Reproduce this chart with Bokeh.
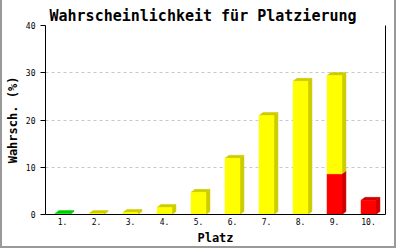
from bokeh.plotting import figure
from bokeh.models import Range1d, FixedTicker, LinearAxis
from bokeh.embed import file_html
from bokeh.resources import INLINE

# ---- data ----
places = ["1.", "2.", "3.", "4.", "5.", "6.", "7.", "8.", "9.", "10."]
red_vals = [0, 0, 0, 0, 0, 0, 0, 0, 8.6, 3.0]
yellow_vals = [0, 0.2, 0.45, 1.5, 4.7, 11.9, 20.95, 28.2, 20.8, 0]
green_vals = [0.2, 0, 0, 0, 0, 0, 0, 0, 0, 0]
y_ticks = [0, 10, 20, 30, 40]

# stacking order bottom -> top, with (front colour, shade colour)
series = [
    (red_vals, "#FF0000", "#CC0000"),
    (yellow_vals, "#FFFF00", "#CCCC00"),
    (green_vals, "#00FF00", "#00CC00"),
]

FONT = "DejaVu Sans Mono"
BAR_W = 0.44      # width of front face (category units)
DX = 0.117        # 3D depth to the right (category units)
DY = 0.63         # 3D depth upwards (value units)

p = figure(width=396, height=248, output_backend="svg", toolbar_location=None,
           x_range=Range1d(0.5, 10.5), y_range=Range1d(0, 40),
           min_border_left=41, min_border_right=13, min_border_top=25,
           min_border_bottom=34)
p.styles = {"border-left": "2px solid #999999", "border-right": "2px solid #999999",
            "border-bottom": "2px solid #999999"}
p.outline_line_color = None
p.background_fill_color = "white"
p.border_fill_color = "white"

p.title.text = "Wahrscheinlichkeit für Platzierung"
p.title.text_font = FONT
p.title.text_font_size = "15px"
p.title.text_font_style = "bold"
p.title.text_color = "black"
p.title.align = "left"
p.title.offset = 4
p.title.standoff = 2

fx_l, fx_r, fb, ft, fc = [], [], [], [], []
sxs, sys, scol = [], [], []
for i, lab in enumerate(places):
    x = i + 1
    bottom = 0.0
    top_col = None
    for vals, col, shade in series:
        v = vals[i]
        if v <= 0:
            continue
        t = bottom + v
        xl, xr = x - BAR_W / 2, x + BAR_W / 2
        fx_l.append(xl); fx_r.append(xr); fb.append(bottom); ft.append(t); fc.append(col)
        sxs.append([xr, xr + DX, xr + DX, xr])
        sys.append([bottom, bottom + DY, t + DY, t])
        scol.append(shade)
        top_col = shade
        bottom = t
    if top_col is not None:
        xl, xr = x - BAR_W / 2, x + BAR_W / 2
        sxs.append([xl, xl + DX, xr + DX, xr])
        sys.append([bottom, bottom + DY, bottom + DY, bottom])
        scol.append(top_col)

p.patches(xs=sxs, ys=sys, fill_color=scol, line_color=scol, line_width=0.5)
p.quad(left=fx_l, right=fx_r, bottom=fb, top=ft, fill_color=fc, line_color=fc, line_width=0.5)

# x axis
xa = p.xaxis[0]
xa.ticker = FixedTicker(ticks=list(range(1, len(places) + 1)))
xa.major_label_overrides = {i + 1: lab for i, lab in enumerate(places)}
xa.major_tick_out = 0
xa.major_tick_in = 0
xa.minor_tick_out = 0
xa.minor_tick_in = 0
xa.major_label_standoff = 3
xa.major_label_text_font = FONT
xa.major_label_text_font_size = "8px"
xa.major_label_text_color = "black"
xa.axis_label = "Platz"
xa.axis_label_text_font = FONT
xa.axis_label_text_font_size = "12px"
xa.axis_label_text_font_style = "bold"
xa.axis_label_text_color = "black"
xa.axis_label_standoff = 3
xa.axis_line_color = "black"

# y axis
ya = p.yaxis[0]
ya.ticker = FixedTicker(ticks=y_ticks)
ya.major_tick_out = 5
ya.major_tick_in = 0
ya.minor_tick_out = 0
ya.minor_tick_in = 0
ya.major_tick_line_color = "black"
ya.major_label_standoff = 5
ya.major_label_text_font = FONT
ya.major_label_text_font_size = "8px"
ya.major_label_text_color = "black"
ya.axis_label = "Wahrsch. (%)"
ya.axis_label_text_font = FONT
ya.axis_label_text_font_size = "12px"
ya.axis_label_text_font_style = "bold"
ya.axis_label_text_color = "black"
ya.axis_label_standoff = 3
ya.axis_line_color = "black"

# right frame line
ra = LinearAxis(ticker=FixedTicker(ticks=[]), major_tick_out=0, major_tick_in=0,
                minor_tick_out=0, minor_tick_in=0, major_label_text_font_size="0px",
                axis_line_color="black")
p.add_layout(ra, "right")

p.xgrid.grid_line_color = None
p.ygrid.ticker = FixedTicker(ticks=y_ticks[1:])
p.ygrid.grid_line_color = "#C8C8C8"
p.ygrid.grid_line_dash = "3 3"

open("out.html", "w").write(file_html(p, INLINE))
